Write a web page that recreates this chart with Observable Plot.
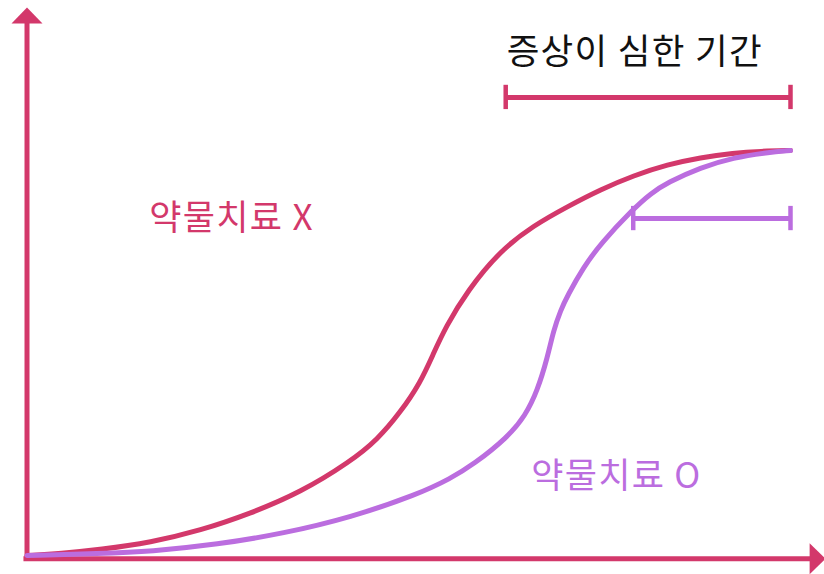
<!DOCTYPE html>
<html>
<head>
<meta charset="utf-8">
<script src="https://cdn.jsdelivr.net/npm/d3@7"></script>
<script src="https://cdn.jsdelivr.net/npm/@observablehq/plot@0.6"></script>
<style>
  html, body { margin: 0; padding: 0; background: #fff; }
  #chart svg { display: block; }
  #chart svg text { letter-spacing: 1.3px; }
</style>
</head>
<body>
<div id="chart"></div>
<script>
// ---- data (time 0..100, severity 0..100) ----
const crimsonX = [0, 4.39, 9.63, 16.18, 22.72, 29.27, 35.82, 42.37, 45.9, 48.92, 51.5, 53.24, 54.8, 57.7, 62.0, 66.34, 70.8, 75.14, 79.46, 83.9, 88.2, 92.54, 96.07, 100];
const crimsonY = [0, 0.49, 1.48, 3.21, 6.17, 10.37, 15.56, 23.2, 28.6, 35.4, 42.6, 49.88, 56.3, 65.43, 75.31, 81.48, 86.17, 90.37, 93.83, 96.54, 98.27, 99.38, 99.83, 100];
const purpleX = [0, 9.63, 16.18, 24.95, 33.6, 42.37, 51.15, 55.47, 58.48, 62.93, 65.29, 66.86, 68.17, 68.96, 69.88, 70.8, 72.9, 75.14, 79.46, 81.69, 83.9, 88.2, 92.54, 96.99, 100];
const purpleY = [0, 0.49, 0.99, 2.72, 5.43, 9.38, 15.06, 19.01, 22.47, 29.14, 34.57, 40.74, 48.89, 55.56, 60.49, 64.2, 71.2, 77.04, 85.68, 89.38, 92.1, 95.8, 98.27, 99.51, 100];

const seriesNames = ["약물치료 X", "약물치료 O"];
const seriesColors = ["#d3386b", "#bb6ddf"];
const labelX = [26.8, 77.2];
const labelY = [83.2, 19.5];

const periodTitle = "증상이 심한 기간";
const periodTitlePos = [79.6, 124.2];
// severe-period brackets: [start, end, level]
const bracketStart = [62.7, 79.4];
const bracketEnd = [100, 100];
const bracketLevel = [113.1, 83.2];
const bracketCap = 3;

// axis extents (data units)
const xAxisLevel = -0.8;
const xAxisFrom = -0.4, xAxisTo = 103.2, xAxisTip = 104.6;
const yAxisPos = 0;
const yAxisFrom = -1.2, yAxisTo = 131.5, yAxisTip = 135.3;
const axisColor = "#d3386b";

// ---- build tables ----
const lineData = [
  ...crimsonX.map((x, i) => ({x, y: crimsonY[i], s: seriesNames[0]})),
  ...purpleX.map((x, i) => ({x, y: purpleY[i], s: seriesNames[1]}))
];
const labels = seriesNames.map((s, i) => ({s, x: labelX[i], y: labelY[i], c: seriesColors[i]}));
const brackets = bracketStart.map((x1, i) => ({x1, x2: bracketEnd[i], y: bracketLevel[i], c: seriesColors[i]}));
const caps = brackets.flatMap(b => [{x: b.x1, y1: b.y - bracketCap, y2: b.y + bracketCap, c: b.c}, {x: b.x2, y1: b.y - bracketCap, y2: b.y + bracketCap, c: b.c}]);

const arrowHead = {
  draw(ctx) {
    ctx.moveTo(0, 0);
    ctx.lineTo(15.5, 16);
    ctx.lineTo(-15.5, 16);
    ctx.closePath();
  }
};

const chart = Plot.plot({
  width: 824,
  height: 574,
  margin: 0,
  x: {domain: [0, 100], range: [26.5, 790], axis: null},
  y: {domain: [0, 100], range: [555, 150], axis: null},
  style: {background: "#fff", fontFamily: "'Noto Sans CJK KR', 'Noto Sans', sans-serif"},
  marks: [
    // axes
    Plot.ruleY([xAxisLevel], {x1: xAxisFrom, x2: xAxisTo, stroke: axisColor, strokeWidth: 5}),
    Plot.ruleX([yAxisPos], {y1: yAxisFrom, y2: yAxisTo, stroke: axisColor, strokeWidth: 5}),
    Plot.dot([{x: yAxisPos, y: yAxisTip}], {x: "x", y: "y", symbol: arrowHead, fill: axisColor, stroke: "none"}),
    Plot.dot([{x: xAxisTip, y: xAxisLevel}], {x: "x", y: "y", symbol: arrowHead, rotate: 90, fill: axisColor, stroke: "none"}),
    // curves
    Plot.line(lineData, {x: "x", y: "y", z: "s", stroke: d => d.s === seriesNames[0] ? seriesColors[0] : seriesColors[1], strokeWidth: 5, curve: "basis"}),
    // brackets
    Plot.ruleY(brackets, {y: "y", x1: "x1", x2: "x2", stroke: "c", strokeWidth: 5}),
    Plot.ruleX(caps, {x: "x", y1: "y1", y2: "y2", stroke: "c", strokeWidth: 4.5}),
    // labels
    Plot.text(labels, {x: "x", y: "y", text: "s", fill: "c", fontSize: 35, textAnchor: "middle"}),
    Plot.text([periodTitle], {x: periodTitlePos[0], y: periodTitlePos[1], text: d => d, fill: "#111", fontSize: 35.5, textAnchor: "middle"})
  ]
});
document.getElementById("chart").appendChild(chart);
</script>
</body>
</html>
